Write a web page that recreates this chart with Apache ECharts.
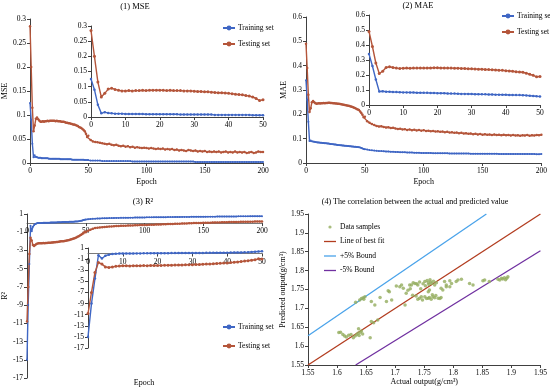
<!DOCTYPE html>
<html><head><meta charset="utf-8">
<script src="https://cdn.jsdelivr.net/npm/echarts@6/dist/echarts.min.js"></script>
<style>html,body{margin:0;padding:0;background:#fff}#c{width:550px;height:390px}</style>
</head><body><div id="c"></div><script>
// ---------- DATA ----------
const epochs = [0,1,2,3,4,5,6,7,8,9,10,11,12,13,14,15,16,17,18,19,20,21,22,23,24,25,26,27,28,29,30,31,32,33,34,35,36,37,38,39,40,41,42,43,44,45,46,47,48,49,50,
52,54,56,58,60,62,64,66,68,70,72,74,76,78,80,82,84,86,88,90,92,94,96,98,100,102,104,106,108,110,112,114,116,118,120,122,124,126,128,130,
132,134,136,138,140,142,144,146,148,150,152,154,156,158,160,162,164,166,168,170,172,174,176,178,180,182,184,186,188,190,192,194,196,198,200];

const mseTest = [0.285,0.200,0.115,0.066,0.078,0.092,0.095,0.091,0.088,0.086,
0.086,0.087,0.086,0.087,0.087,0.088,0.087,0.088,0.088,0.088,
0.088,0.088,0.087,0.088,0.087,0.087,0.087,0.086,0.086,0.086,
0.085,0.084,0.084,0.083,0.083,0.082,0.081,0.080,0.080,0.079,
0.078,0.077,0.075,0.074,0.073,0.071,0.069,0.066,0.061,0.054,0.057,
0.048,0.045,0.044,0.043,0.042,0.041,0.040,0.039,0.040,0.038,
0.037,0.038,0.036,0.035,0.036,0.034,0.035,0.033,0.034,0.032,
0.033,0.032,0.031,0.032,0.031,0.030,0.031,0.030,0.029,0.030,
0.029,0.030,0.028,0.029,0.028,0.029,0.027,0.028,0.026,0.027,
0.026,0.025,0.027,0.026,0.025,0.026,0.024,0.025,0.024,0.025,
0.023,0.024,0.023,0.024,0.023,0.024,0.022,0.023,0.024,0.022,
0.023,0.022,0.024,0.022,0.023,0.022,0.023,0.021,0.022,0.023,
0.021,0.022,0.024,0.023,0.023];
const mseTrain = [0.125,0.090,0.040,0.012,0.016,0.013,0.012,0.011,0.011,0.011,
0.010,0.010,0.010,0.010,0.010,0.010,0.009,0.009,0.009,0.009,
0.009,0.009,0.009,0.009,0.009,0.009,0.008,0.008,0.008,0.008,
0.008,0.008,0.008,0.008,0.008,0.008,0.007,0.007,0.007,0.007,
0.007,0.007,0.007,0.007,0.007,0.007,0.007,0.006,0.006,0.006,0.006,
0.005,0.005,0.005,0.005,0.005,0.004,0.004,0.004,0.004,0.004,
0.004,0.004,0.004,0.004,0.004,0.004,0.004,0.004,0.003,0.003,
0.003,0.003,0.003,0.003,0.003,0.003,0.003,0.003,0.003,0.003,
0.003,0.003,0.003,0.003,0.003,0.003,0.003,0.003,0.003,0.003,
0.003,0.003,0.003,0.003,0.003,0.002,0.002,0.002,0.002,0.002,
0.002,0.002,0.002,0.002,0.002,0.002,0.002,0.002,0.002,0.002,
0.002,0.002,0.002,0.002,0.002,0.002,0.002,0.002,0.002,0.002,
0.002,0.002,0.002,0.002,0.002];

const maeTest = [0.490,0.390,0.280,0.210,0.225,0.250,0.255,0.250,0.246,0.244,
0.245,0.246,0.245,0.246,0.246,0.247,0.246,0.247,0.247,0.248,
0.248,0.247,0.247,0.246,0.246,0.245,0.245,0.244,0.243,0.242,
0.241,0.240,0.239,0.238,0.237,0.236,0.235,0.234,0.232,0.231,
0.229,0.227,0.225,0.222,0.220,0.218,0.212,0.205,0.198,0.188,0.190,
0.172,0.165,0.160,0.156,0.152,0.150,0.151,0.148,0.146,0.147,
0.144,0.145,0.142,0.140,0.141,0.138,0.139,0.136,0.138,0.135,
0.137,0.134,0.136,0.133,0.135,0.132,0.133,0.130,0.132,0.129,
0.130,0.128,0.129,0.126,0.128,0.125,0.126,0.124,0.125,0.122,
0.124,0.121,0.122,0.120,0.121,0.118,0.120,0.117,0.119,0.116,
0.118,0.116,0.117,0.115,0.117,0.115,0.116,0.114,0.116,0.114,
0.115,0.113,0.115,0.113,0.114,0.112,0.114,0.113,0.115,0.112,
0.114,0.113,0.115,0.114,0.116];
const maeTrain = [0.340,0.260,0.170,0.090,0.092,0.089,0.088,0.087,0.086,0.085,
0.084,0.084,0.083,0.083,0.082,0.082,0.081,0.081,0.080,0.080,
0.079,0.078,0.078,0.077,0.076,0.076,0.075,0.074,0.074,0.073,
0.073,0.072,0.072,0.071,0.071,0.070,0.070,0.069,0.069,0.068,
0.068,0.067,0.067,0.066,0.066,0.065,0.064,0.062,0.060,0.058,0.057,
0.055,0.053,0.052,0.051,0.050,0.049,0.049,0.048,0.047,0.047,
0.046,0.046,0.045,0.045,0.044,0.044,0.044,0.043,0.043,0.043,
0.042,0.042,0.042,0.041,0.041,0.041,0.041,0.041,0.040,0.040,
0.040,0.040,0.040,0.040,0.040,0.039,0.039,0.039,0.039,0.039,
0.039,0.039,0.039,0.039,0.038,0.038,0.038,0.038,0.038,0.038,
0.038,0.038,0.038,0.038,0.038,0.038,0.037,0.037,0.037,0.037,
0.037,0.037,0.037,0.037,0.037,0.037,0.037,0.037,0.037,0.037,
0.037,0.037,0.036,0.036,0.037];

const r2Test = [-10.8,-7.0,-3.4,-1.6,-1.9,-2.4,-2.5,-2.4,-2.3,-2.25,
-2.2,-2.2,-2.22,-2.2,-2.18,-2.2,-2.17,-2.18,-2.16,-2.15,
-2.15,-2.13,-2.12,-2.1,-2.1,-2.08,-2.06,-2.05,-2.03,-2.0,
-2.0,-1.98,-1.96,-1.93,-1.9,-1.87,-1.84,-1.8,-1.76,-1.72,
-1.68,-1.63,-1.57,-1.5,-1.43,-1.36,-1.28,-1.2,-1.12,-0.95,-1.0,
-0.85,-0.72,-0.62,-0.55,-0.5,-0.47,-0.45,-0.42,-0.4,-0.38,
-0.36,-0.35,-0.33,-0.31,-0.3,-0.29,-0.28,-0.27,-0.26,-0.25,
-0.24,-0.23,-0.22,-0.22,-0.21,-0.2,-0.19,-0.18,-0.17,-0.16,
-0.15,-0.14,-0.13,-0.12,-0.11,-0.1,-0.09,-0.08,-0.07,-0.06,
-0.05,-0.04,-0.03,-0.02,-0.01,0,0,0.01,0.02,0.03,
0.04,0.05,0.05,0.06,0.07,0.08,0.08,0.09,0.1,0.1,
0.11,0.12,0.12,0.13,0.13,0.14,0.14,0.15,0.15,0.16,
0.16,0.17,0.17,0.18,0.18];
const r2Train = [-15.0,-9.0,-4.5,-0.3,-0.9,-0.4,-0.2,-0.1,-0.05,0.0,
0.0,0.01,0.02,0.02,0.03,0.03,0.04,0.04,0.05,0.05,
0.06,0.06,0.07,0.07,0.08,0.08,0.09,0.09,0.1,0.1,
0.11,0.11,0.12,0.12,0.13,0.13,0.14,0.14,0.15,0.15,
0.16,0.17,0.18,0.19,0.2,0.22,0.25,0.29,0.33,0.37,0.4,
0.43,0.45,0.47,0.49,0.5,0.51,0.52,0.53,0.54,0.55,
0.55,0.56,0.57,0.57,0.58,0.58,0.59,0.59,0.6,0.6,
0.61,0.61,0.62,0.62,0.62,0.63,0.63,0.63,0.64,0.64,
0.64,0.65,0.65,0.65,0.66,0.66,0.66,0.67,0.67,0.67,
0.68,0.68,0.68,0.68,0.69,0.69,0.69,0.7,0.7,0.7,
0.7,0.71,0.71,0.71,0.71,0.72,0.72,0.72,0.72,0.73,
0.73,0.73,0.73,0.73,0.74,0.74,0.74,0.74,0.74,0.75,
0.75,0.75,0.75,0.75,0.75];
const insetCount = 51; // epochs 0..50 shown in the insets

const r2Ticks = [-17,-15,-13,-11,-9,-7,-5,-3,-1,1];

const sampleActual = [1.603,1.606,1.610,1.613,1.616,1.620,1.624,1.628,1.631,1.634,1.636,1.638,1.640,1.642,1.637,1.644,1.657,
1.659,1.663,1.670,
1.632,1.639,1.642,1.645,1.648,1.646,1.659,1.665,1.674,1.685,1.688,1.690,1.694,1.702,1.708,1.711,1.714,1.717,1.719,1.722,
1.728,1.734,1.739,1.725,1.731,1.737,1.742,1.748,1.751,1.757,
1.739,1.742,1.745,1.751,1.754,1.757,1.759,1.762,1.765,1.768,1.774,1.777,1.779,1.747,1.736,1.730,1.770,1.764,
1.757,1.759,1.779,1.782,1.788,1.794,1.726,1.744,
1.752,1.755,1.758,1.761,1.763,1.766,1.768,1.771,1.760,1.785,1.788,1.794,1.797,1.805,1.808,1.814,1.828,1.834,
1.851,1.854,1.862,1.877,1.880,1.883,1.885,1.888,1.892,1.894,1.890];
const samplePredicted = [1.636,1.637,1.631,1.627,1.624,1.629,1.631,1.622,1.627,1.630,1.634,1.628,1.637,1.640,1.646,1.632,1.622,
1.665,1.662,1.669,
1.716,1.722,1.726,1.728,1.731,1.724,1.718,1.709,1.729,1.718,1.747,1.744,1.722,1.759,1.757,1.762,1.753,1.709,1.740,1.748,
1.762,1.766,1.762,1.762,1.768,1.765,1.770,1.765,1.771,1.768,
1.724,1.727,1.731,1.731,1.726,1.727,1.729,1.724,1.731,1.728,1.727,1.726,1.729,1.722,1.733,1.735,1.734,1.736,
1.744,1.749,1.753,1.749,1.757,1.757,1.752,1.752,
1.760,1.774,1.763,1.770,1.766,1.772,1.762,1.768,1.776,1.771,1.762,1.773,1.766,1.771,1.775,1.777,1.766,1.762,
1.773,1.775,1.771,1.777,1.775,1.780,1.778,1.781,1.780,1.784,1.776];

const fitLine = [[1.55,1.55],[1.95,1.95]];
const upperBound = [[1.55,1.6275],[1.857,1.95]];
const lowerBound = [[1.632,1.55],[1.95,1.8525]];

// ---------- STYLE ----------
const FF = '"Liberation Serif","Times New Roman",serif';
const C_TRAIN = '#3f66c4';
const C_TEST = '#b4553a';
const AX = '#404040';
const FS = 7.5;
const LINE_ICON = 'path://M0,0 M12,6 M0,2.35 L12,2.35 L12,3.65 L0,3.65 Z';
const DOT_ICON = 'path://M0,0 M12,6 M7.6,3 a1.6,1.6 0 1 0 -3.2,0 a1.6,1.6 0 1 0 3.2,0z';

function pairs(n){ return (arr)=> epochs.slice(0,n).map((e,i)=>[e,arr[i]]); }
const full = pairs(epochs.length), ins = pairs(insetCount);

function xAx(grid, max, interval, name, gap, extra){
  const a = {type:'value', gridIndex:grid, min:0, max:max, interval:interval,
    axisLine:{lineStyle:{color:AX, width:1}}, axisTick:{show:true, length:3, lineStyle:{color:AX}},
    splitLine:{show:false},
    axisLabel:{fontSize:FS, fontFamily:FF, color:'#000', margin:4},
    name:name||'', nameLocation:'middle', nameGap:gap||14,
    nameTextStyle:{fontSize:8, fontFamily:FF, color:'#000'}};
  return Object.assign(a, extra||{});
}
function yAx(grid, min, max, interval, name, gap, extra){
  const a = {type:'value', gridIndex:grid, min:min, max:max, interval:interval,
    axisLine:{show:true, onZero:false, lineStyle:{color:AX, width:1}}, axisTick:{show:true, length:3, lineStyle:{color:AX}},
    splitLine:{show:false},
    axisLabel:{fontSize:FS, fontFamily:FF, color:'#000', margin:4},
    name:name||'', nameLocation:'middle', nameGap:gap||20, nameRotate:90,
    nameTextStyle:{fontSize:8, fontFamily:FF, color:'#000'}};
  return Object.assign(a, extra||{});
}
function lineS(name, grid, data, color, sym, symSize, z){
  return {type:'line', name:name, xAxisIndex:grid, yAxisIndex:grid, data:data,
    symbol:sym, symbolSize:symSize, showSymbol:true, color:color,
    lineStyle:{color:color, width:1.4}, itemStyle:{color:color}, emphasis:{disabled:true},
    animation:false, z:z||2};
}

const grids = [
  {left:30, top:19, width:233, height:144},   // 0 MSE main
  {left:91, top:26, width:172, height:91},    // 1 MSE inset
  {left:306, top:17, width:236, height:146},  // 2 MAE main
  {left:369, top:15, width:171, height:90},   // 3 MAE inset
  {left:27, top:214, width:235, height:164},  // 4 R2 main
  {left:88, top:248, width:174, height:100},  // 5 R2 inset
  {left:308, top:214, width:233, height:151}  // 6 scatter
];
// R² x axes cross the y axis at 0 (range -17..1): shift the axis line up to the zero level
const r2Min = -17, r2Max = 1;
const zeroShift = (h)=> -h * (0 - r2Min) / (r2Max - r2Min);

const r2Extra = {axisLabel:{fontSize:FS, fontFamily:FF, color:'#000', margin:4, customValues:r2Ticks},
                 axisTick:{show:true, length:3, lineStyle:{color:AX}, customValues:r2Ticks}};
const r2xLine = {onZero:false, lineStyle:{color:'#7a7a7a', width:1}};

const option = {
  backgroundColor:'#fff',
  animation:false,
  grid: grids,
  xAxis: [
    xAx(0,200,50,'Epoch',15), xAx(1,50,10), xAx(2,200,50,'Epoch',15), xAx(3,50,10),
    xAx(4,200,50,'',14,{offset:zeroShift(164), axisLine:r2xLine}),
    xAx(5,50,10,'',14,{offset:zeroShift(100), axisLine:r2xLine}),
    xAx(6,1.95,0.05,'Actual output(g/cm³)',13,{min:1.55})
  ],
  yAxis: [
    yAx(0,0,0.3,0.05,'MSE',21), yAx(1,0,0.3,0.05), yAx(2,0,0.6,0.1,'MAE',18), yAx(3,0,0.6,0.1),
    yAx(4,r2Min,r2Max,2,'R²',17,r2Extra), yAx(5,r2Min,r2Max,2,'',20,r2Extra),
    yAx(6,1.55,1.95,0.05,'Predicted output(g/cm³)',20)
  ],
  legend: [
    {left:222, top:24, orient:'vertical', padding:0, itemWidth:12, itemHeight:6, itemGap:8,
      data:['Training set','Testing set'], textStyle:{fontSize:7.5, fontFamily:FF, color:'#000', padding:[0,0,0,-2]}},
    {left:501, top:12, orient:'vertical', padding:0, itemWidth:12, itemHeight:6, itemGap:8,
      data:['Training set','Testing set'], textStyle:{fontSize:7.5, fontFamily:FF, color:'#000', padding:[0,0,0,-2]}},
    {left:222, top:323, orient:'vertical', padding:0, itemWidth:12, itemHeight:6, itemGap:11,
      data:['Training set','Testing set'], textStyle:{fontSize:7.5, fontFamily:FF, color:'#000', padding:[0,0,0,-2]}},
    {left:324, top:223, orient:'vertical', padding:0, itemWidth:12, itemHeight:6, itemGap:6.5,
      data:[{name:'Data samples', icon:DOT_ICON},{name:'Line of best fit', icon:LINE_ICON},
            {name:'+5% Bound', icon:LINE_ICON},{name:'-5% Bound', icon:LINE_ICON}],
      textStyle:{fontSize:7.5, fontFamily:FF, color:'#000', padding:[0,0,0,-1]}}
  ],
  graphic: [
    {type:'text', x:135, y:7, style:{text:'(1) MSE', font:'8.5px '+FF, fill:'#000', textAlign:'center', textVerticalAlign:'middle'}},
    {type:'text', x:418, y:6, style:{text:'(2) MAE', font:'8.5px '+FF, fill:'#000', textAlign:'center', textVerticalAlign:'middle'}},
    {type:'text', x:143, y:202, style:{text:'(3) R²', font:'8.5px '+FF, fill:'#000', textAlign:'center', textVerticalAlign:'middle'}},
    {type:'text', x:415, y:202, style:{text:'(4) The correlation between the actual and predicted value', font:'8px '+FF, fill:'#000', textAlign:'center', textVerticalAlign:'middle'}},
    {type:'text', x:144, y:383, style:{text:'Epoch', font:'8px '+FF, fill:'#000', textAlign:'center', textVerticalAlign:'middle'}}
  ],
  series: [
    lineS('Training set',0,full(mseTrain),C_TRAIN,'circle',2,3),
    lineS('Testing set',0,full(mseTest),C_TEST,'circle',2.5,3),
    lineS('Training set',1,ins(mseTrain),C_TRAIN,'circle',2.5,4),
    lineS('Testing set',1,ins(mseTest),C_TEST,'circle',3,4),
    lineS('Training set',2,full(maeTrain),C_TRAIN,'circle',2,3),
    lineS('Testing set',2,full(maeTest),C_TEST,'circle',2.5,3),
    lineS('Training set',3,ins(maeTrain),C_TRAIN,'circle',2.5,4),
    lineS('Testing set',3,ins(maeTest),C_TEST,'circle',3,4),
    lineS('Training set',4,full(r2Train),C_TRAIN,'circle',2,3),
    lineS('Testing set',4,full(r2Test),C_TEST,'circle',2.5,3),
    lineS('Training set',5,ins(r2Train),C_TRAIN,'circle',2.5,4),
    lineS('Testing set',5,ins(r2Test),C_TEST,'circle',3,4),
    {type:'scatter', name:'Data samples', xAxisIndex:6, yAxisIndex:6,
      data: sampleActual.map((x,i)=>[x,samplePredicted[i]]), symbol:'circle', symbolSize:3.5,
      itemStyle:{color:'#93ad5e'}, emphasis:{disabled:true}, z:4},
    {type:'line', name:'Line of best fit', xAxisIndex:6, yAxisIndex:6, data:fitLine, symbol:'none',
      color:'#b23c1f', lineStyle:{color:'#b23c1f', width:1.3}, emphasis:{disabled:true}},
    {type:'line', name:'+5% Bound', xAxisIndex:6, yAxisIndex:6, data:upperBound, symbol:'none',
      color:'#4aa3ea', lineStyle:{color:'#4aa3ea', width:1.3}, emphasis:{disabled:true}},
    {type:'line', name:'-5% Bound', xAxisIndex:6, yAxisIndex:6, data:lowerBound, symbol:'none',
      color:'#7030a0', lineStyle:{color:'#7030a0', width:1.3}, emphasis:{disabled:true}}
  ]
};
const chart = echarts.init(document.getElementById('c'), null, {renderer:'canvas'});
chart.setOption(option);
</script></body></html>
